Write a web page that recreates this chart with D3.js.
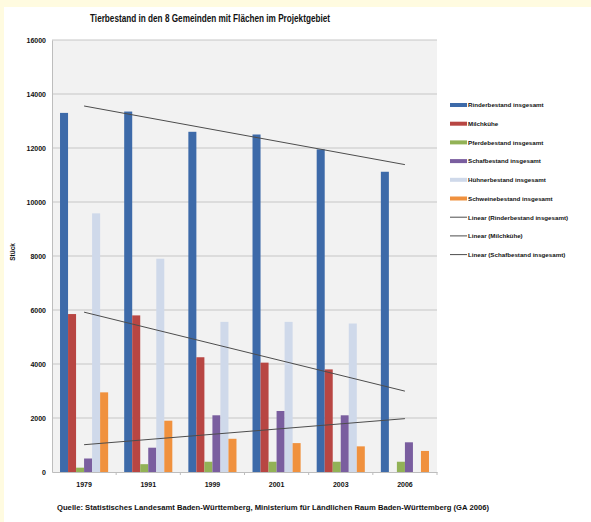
<!DOCTYPE html>
<html>
<head>
<meta charset="utf-8">
<script src="https://cdn.jsdelivr.net/npm/d3@7/dist/d3.min.js"></script>
<style>
  html, body { margin: 0; padding: 0; background: #fffbe0; }
  svg { display: block; }
  text { font-family: "Liberation Sans", Arial, sans-serif; font-weight: bold; fill: #111; }
</style>
</head>
<body>
<script>
// Livestock counts in the 8 municipalities, by census year
const years = ["1979", "1991", "1999", "2001", "2003", "2006"];
const rinder = [13300, 13350, 12600, 12500, 11950, 11120];
const milchkuehe = [5850, 5800, 4250, 4050, 3800, null];
const pferde = [160, 290, 380, 380, 380, 380];
const schafe = [500, 900, 2100, 2260, 2100, 1100];
const huehner = [9580, 7900, 5560, 5560, 5500, null];
const schweine = [2950, 1900, 1230, 1070, 950, 780];
const yTicks = [0, 2000, 4000, 6000, 8000, 10000, 12000, 14000, 16000];

const seriesNames = ["Rinderbestand insgesamt", "Milchkühe", "Pferdebestand insgesamt",
  "Schafbestand insgesamt", "Hühnerbestand insgesamt", "Schweinebestand insgesamt"];
const seriesValues = [rinder, milchkuehe, pferde, schafe, huehner, schweine];
const seriesColors = ["#3d6aa9", "#b84643", "#92b256", "#7a5e9f", "#cfd9ea", "#f0913e"];
const trendSeries = [0, 1, 3]; // linear trend lines for these series
const trendColor = "#4d4d4d";

const W = 591, H = 522;
const svg = d3.select("body").append("svg").attr("width", W).attr("height", H);

// white chart area (pale margin on top and left)
svg.append("rect").attr("x", 4).attr("y", 7).attr("width", W - 4).attr("height", H - 7).attr("fill", "#ffffff");

const plot = { left: 52, right: 437, top: 40, bottom: 472 };

const x0 = d3.scaleBand().domain(years).range([plot.left, plot.right]).padding(0);
// bar width = group width / 8 (one bar-width gap on each side of a group)
const barW = x0.bandwidth() / (seriesNames.length + 2);
const y = d3.scaleLinear().domain([0, 16000]).range([plot.bottom, plot.top]);

// plot background
svg.append("rect").attr("x", plot.left).attr("y", plot.top)
  .attr("width", plot.right - plot.left).attr("height", plot.bottom - plot.top)
  .attr("fill", "#f2f2f2");

// gridlines
svg.append("g").selectAll("line").data(yTicks.filter(t => t > 0)).join("line")
  .attr("x1", plot.left).attr("x2", plot.right)
  .attr("y1", d => y(d)).attr("y2", d => y(d))
  .attr("stroke", "#c6c6c6").attr("stroke-width", 1);

// y axis
const yAxis = d3.axisLeft(y).tickValues(yTicks).tickSize(0).tickPadding(6).tickFormat(d3.format("d"));
const gy = svg.append("g").attr("transform", `translate(${plot.left},0)`).call(yAxis);
gy.select(".domain").attr("stroke", "#bdbdbd");
gy.selectAll("text").style("font-size", "7px");

// bars
const groups = svg.append("g").selectAll("g").data(years).join("g")
  .attr("transform", d => `translate(${x0(d)},0)`);
groups.selectAll("rect")
  .data((d, i) => seriesValues.map((vals, s) => ({ s, v: vals[i] })).filter(e => e.v != null))
  .join("rect")
  .attr("x", e => barW * (e.s + 1))
  .attr("width", barW)
  .attr("y", e => y(e.v))
  .attr("height", e => y(0) - y(e.v))
  .attr("fill", e => seriesColors[e.s]);

// x axis
const xAxis = d3.axisBottom(x0).tickSize(0).tickPadding(10);
const gx = svg.append("g").attr("transform", `translate(0,${plot.bottom})`).call(xAxis);
gx.select(".domain").attr("stroke", "#bdbdbd");
gx.selectAll("text").style("font-size", "7px");
// category boundary ticks
svg.append("g").selectAll("line").data(years).join("line")
  .attr("x1", d => x0(d) + x0.bandwidth())
  .attr("x2", d => x0(d) + x0.bandwidth())
  .attr("y1", plot.bottom).attr("y2", plot.bottom + 3)
  .attr("stroke", "#bdbdbd");

// linear trend lines (least squares on category index 1..n), drawn across all categories
function linearFit(vals) {
  const pts = vals.map((v, i) => [i + 1, v]).filter(p => p[1] != null);
  const mx = d3.mean(pts, p => p[0]), my = d3.mean(pts, p => p[1]);
  const sxy = d3.sum(pts, p => (p[0] - mx) * (p[1] - my));
  const sxx = d3.sum(pts, p => (p[0] - mx) ** 2);
  const b = sxy / sxx;
  return xi => my + b * (xi - mx);
}
const xCenter = i => x0(years[i]) + x0.bandwidth() / 2;
trendSeries.forEach(s => {
  const f = linearFit(seriesValues[s]);
  svg.append("line")
    .attr("x1", xCenter(0)).attr("y1", y(f(1)))
    .attr("x2", xCenter(years.length - 1)).attr("y2", y(f(years.length)))
    .attr("stroke", trendColor).attr("stroke-width", 1);
});

// title (condensed)
svg.append("text").attr("x", 90).attr("y", 22)
  .attr("textLength", 240).attr("lengthAdjust", "spacingAndGlyphs")
  .style("font-size", "10.5px")
  .text("Tierbestand in den 8 Gemeinden mit Flächen im Projektgebiet");

// y axis title
svg.append("text").attr("transform", "translate(15,252) rotate(-90)").attr("text-anchor", "middle")
  .style("font-size", "6.5px").text("Stück");

// source note
svg.append("text").attr("x", 57).attr("y", 510)
  .attr("textLength", 432).attr("lengthAdjust", "spacingAndGlyphs")
  .style("font-size", "7.5px")
  .text("Quelle: Statistisches Landesamt Baden-Württemberg, Ministerium für Ländlichen Raum Baden-Württemberg (GA 2006)");

// legend
const legendItems = seriesNames.map((n, i) => ({ label: n, color: seriesColors[i], type: "bar" }))
  .concat(trendSeries.map(s => ({ label: `Linear (${seriesNames[s]})`, color: trendColor, type: "line" })));
const lg = svg.append("g").selectAll("g").data(legendItems).join("g")
  .attr("transform", (d, i) => `translate(450,${105 + i * 18.7})`);
lg.filter(d => d.type === "bar").append("rect")
  .attr("x", 0).attr("y", -2).attr("width", 17).attr("height", 4).attr("fill", d => d.color);
lg.filter(d => d.type === "line").append("line")
  .attr("x1", 0).attr("x2", 17).attr("y1", 0).attr("y2", 0)
  .attr("stroke", d => d.color).attr("stroke-width", 1);
lg.append("text").attr("x", 18).attr("y", 2.3).style("font-size", "6.2px").text(d => d.label);
</script>
</body>
</html>
